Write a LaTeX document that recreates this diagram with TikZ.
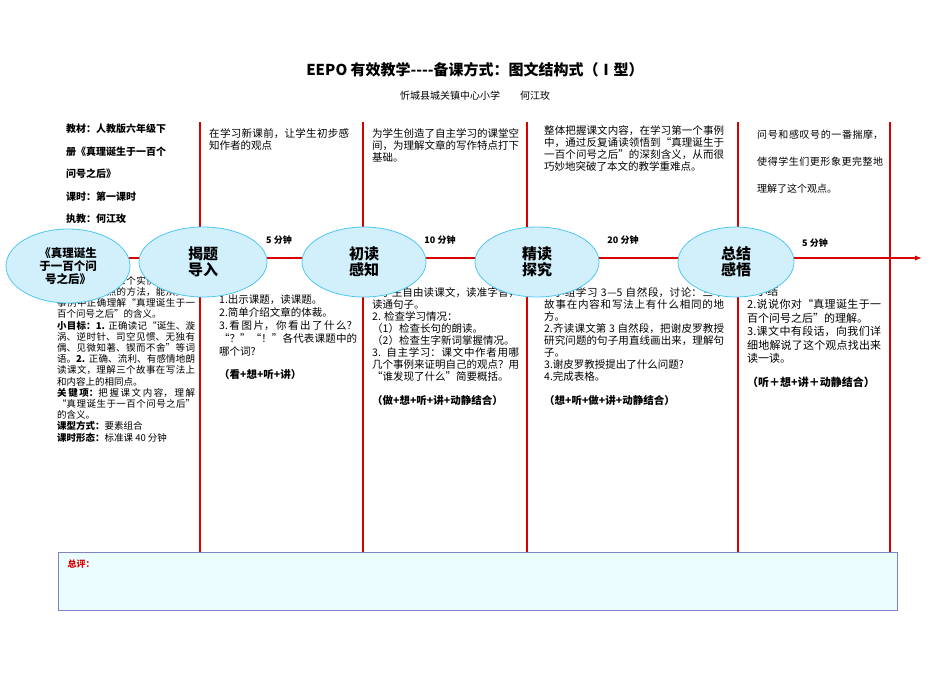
\documentclass[tikz,border=0pt]{standalone}
\usepackage{fontspec}
\setmainfont{Noto Sans CJK SC}
\XeTeXlinebreaklocale "zh"
\XeTeXlinebreakskip=0pt plus 1pt
\usetikzlibrary{arrows.meta,shapes.geometric}
\begin{document}
\begin{tikzpicture}[x=1pt,y=-1pt,
  vline/.style={red!85!black,line width=1.3pt},
  ell/.style={ellipse,draw=cyan!70,fill=cyan!18,line width=0.8pt,font=\fontsize{15}{16}\selectfont\bfseries,align=center},
  txt/.style={anchor=north west,align=justify,font=\fontsize{10.5}{12}\selectfont,inner sep=0pt},
  tm/.style={font=\fontsize{9}{10}\selectfont\bfseries}]
\useasboundingbox (0,0) rectangle (950,672);
\node[font=\fontsize{15}{17}\selectfont\bfseries] (title) at (475,70) {EEPO 有效教学{-}{-}{-}{-}备课方式：图文结构式（Ⅰ型）};
\node[font=\fontsize{10}{12}\selectfont] (sub) at (475,96) {忻城县城关镇中心小学\quad\quad 何江玫};
\foreach \x/\n in {200/a,363/b,527/c,738/d,890/e}
  \draw[vline] (\x,122) -- (\x,552) coordinate (v\n);
\coordinate (s) at (60,258); \coordinate (t) at (922,258);
\draw[red!85!black,line width=1.3pt,-{Latex[length=7pt]}] (s) -- (t);
% text columns
\node[txt,align=left,font=\fontsize{10}{22.5}\selectfont\bfseries] (c0) at (66,124) {教材：人教版六年级下\\册《真理诞生于一百个\\问号之后》\\课时：第一课时\\执教：何江玫};
\node[txt,text width=138pt,font=\fontsize{9.5}{11.2}\selectfont] (c0b) at (57,276) {总目标：读懂三个实例，学习用事实说明观点的方法，能从具体事例中正确理解“真理诞生于一百个问号之后”的含义。\par\textbf{小目标：1.} 正确读记“诞生、漩涡、逆时针、司空见惯、无独有偶、见微知著、锲而不舍”等词语。\textbf{2.} 正确、流利、有感情地朗读课文，理解三个故事在写法上和内容上的相同点。\par\textbf{关键项：}把握课文内容，理解“真理诞生于一百个问号之后”的含义。\par\textbf{课型方式：}要素组合\par\textbf{课时形态：}标准课 40 分钟};
\node[txt,text width=140pt] (c1) at (209,128) {在学习新课前，让学生初步感知作者的观点};
\node[txt,text width=138pt,font=\fontsize{10.5}{13}\selectfont] (c1b) at (219,294) {1.出示课题，读课题。\par 2.简单介绍文章的体裁。\par 3.看图片，你看出了什么？“？”“！”各代表课题中的哪个词?\par\vspace{10pt}\textbf{（看+想+听+讲）}};
\node[txt,text width=147pt] (c2) at (372,128) {为学生创造了自主学习的课堂空间，为理解文章的写作特点打下基础。};
\node[txt,text width=147pt,font=\fontsize{10.5}{12}\selectfont] (c2b) at (372,287) {1.学生自由读课文，读准字音，读通句子。\par 2. 检查学习情况：\par（1）检查长句的朗读。\par（2）检查生字新词掌握情况。\par 3. 自主学习：课文中作者用哪几个事例来证明自己的观点？用“谁发现了什么”简要概括。\par\vspace{12pt}\textbf{（做+想+听+讲+动静结合）}};
\node[txt,text width=180pt] (c3) at (544,125) {整体把握课文内容，在学习第一个事例中，通过反复诵读领悟到“真理诞生于一百个问号之后”的深刻含义，从而很巧妙地突破了本文的教学重难点。};
\node[txt,text width=180pt,font=\fontsize{10.5}{12}\selectfont] (c3b) at (544,287) {1.小组学习 3—5 自然段，讨论：三个故事在内容和写法上有什么相同的地方。\par 2.齐读课文第 3 自然段，把谢皮罗教授研究问题的句子用直线画出来，理解句子。\par 3.谢皮罗教授提出了什么问题?\par 4.完成表格。\par\vspace{12pt}\textbf{（想+听+做+讲+动静结合）}};
\node[txt,text width=126pt,font=\fontsize{10}{27}\selectfont] (c4) at (757,130) {问号和感叹号的一番揣摩，使得学生们更形象更完整地理解了这个观点。};
\node[txt,text width=134pt,font=\fontsize{11}{13.5}\selectfont] (c4b) at (747,286) {1.小结\par 2.说说你对“真理诞生于一百个问号之后”的理解。\par 3.课文中有段话，向我们详细地解说了这个观点找出来读一读。\par\vspace{10pt}\textbf{（听＋想+讲＋动静结合）}};
% times
\node[tm] (m1) at (279,240) {5 分钟};
\node[tm] (m2) at (440,240) {10 分钟};
\node[tm] (m3) at (623,240) {20 分钟};
\node[tm] (m4) at (815,243) {5 分钟};
% ellipses
\node[ell,minimum width=124pt,minimum height=74pt,font=\fontsize{11.5}{13}\selectfont\bfseries] (e0) at (68,266) {《真理诞生\\于一百个问\\号之后》};
\node[ell,minimum width=128pt,minimum height=70pt] (e1) at (203,262) {揭题\\导入};
\node[ell,minimum width=124pt,minimum height=70pt] (e2) at (364,262) {初读\\感知};
\node[ell,minimum width=124pt,minimum height=70pt] (e3) at (537,262) {精读\\探究};
\node[ell,minimum width=116pt,minimum height=70pt] (e4) at (736,262) {总结\\感悟};
% bottom
\node[draw=blue!40!gray!70,fill=blue!10!cyan!8,line width=0.8pt,minimum width=839pt,minimum height=58pt,anchor=north west,inner sep=0pt] (box) at (58,552) {};
\node[anchor=north west,text=red!85!black,font=\fontsize{9}{10}\selectfont\bfseries] (zp) at (64,556) {总评：};
\end{tikzpicture}
\end{document}
